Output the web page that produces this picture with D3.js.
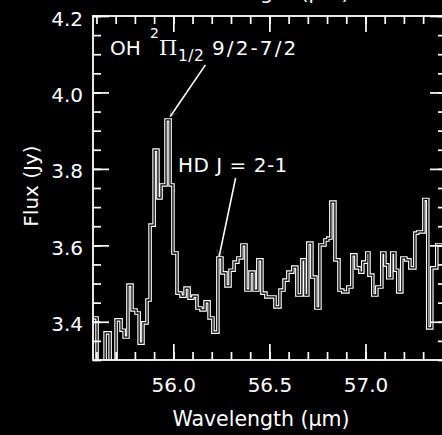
<!DOCTYPE html>
<html><head><meta charset="utf-8">
<script src="https://cdn.jsdelivr.net/npm/d3@7/dist/d3.min.js"></script>
<style>
html,body{margin:0;padding:0;background:#000;}
svg{display:block;}
text{font-family:"DejaVu Sans",sans-serif;fill:#fff;}
</style></head>
<body>
<svg id="c" width="442" height="435"></svg>
<script>
// Left edge wavelength of each spectral bin (μm) and its flux (Jy)
const wavelength = [55.582,55.603,55.624,55.645,55.671,55.686,55.702,55.728,55.744,55.764,
 55.785,55.806,55.822,55.842,55.863,55.879,55.900,55.920,55.936,55.962,
 55.983,55.998,56.019,56.040,56.061,56.082,56.102,56.123,56.144,56.165,
 56.186,56.206,56.232,56.253,56.274,56.295,56.316,56.336,56.357,56.378,
 56.399,56.420,56.440,56.461,56.482,56.503,56.529,56.555,56.576,56.596,
 56.622,56.643,56.669,56.685,56.700,56.721,56.742,56.763,56.789,56.804,
 56.820,56.841,56.862,56.882,56.908,56.929,56.950,56.971,56.986,57.007,
 57.018,57.038,57.059,57.085,57.101,57.116,57.137,57.153,57.168,57.189,
 57.210,57.231,57.257,57.272,57.304,57.324,57.345,57.371,57.419];
const flux = [3.410,3.274,3.261,3.371,3.261,3.248,3.405,3.378,3.360,3.496,
 3.431,3.423,3.344,3.397,3.457,3.653,3.849,3.724,3.758,3.928,
 3.758,3.580,3.475,3.467,3.488,3.462,3.467,3.436,3.431,3.452,
 3.410,3.373,3.567,3.528,3.494,3.535,3.556,3.567,3.601,3.483,
 3.530,3.483,3.562,3.475,3.465,3.465,3.439,3.483,3.509,3.530,
 3.543,3.470,3.562,3.470,3.606,3.517,3.436,3.601,3.614,3.619,
 3.713,3.562,3.483,3.478,3.491,3.575,3.541,3.530,3.556,3.580,
 3.522,3.470,3.491,3.580,3.549,3.515,3.580,3.535,3.478,3.567,
 3.562,3.541,3.632,3.635,3.720,3.384,3.541,3.601,3.601];

const xDomain = [55.582, 57.419];
const yDomain = [3.3, 4.2];
const xMajor = [56.0, 56.5, 57.0];
const xMinor = d3.range(55.6, 57.41, 0.1);
const yMajor = [3.4, 3.6, 3.8, 4.0, 4.2];
const yMinor = d3.range(3.3, 4.201, 0.05);
const xTitle = "Wavelength (\u03bcm)";
const yTitle = "Flux (Jy)";
// annotation pointers: [from λ, from flux, to λ, to flux]
const pointers = [[56.167, 4.072, 55.984, 3.937],[56.324, 3.776, 56.238, 3.570]];

const L = 93, T = 16, R = 446, B = 360;
const svg = d3.select("#c");
svg.append("rect").attr("width",442).attr("height",435).attr("fill","#000");
const x = d3.scaleLinear().domain(xDomain).range([L, R]);
const y = d3.scaleLinear().domain(yDomain).range([B, T]);

svg.append("defs").append("clipPath").attr("id","clip")
  .append("rect").attr("x",L).attr("y",T).attr("width",R-L).attr("height",B-T);

const pts = wavelength.map((w,i)=>[w, flux[i]]);
const line = d3.line().x(d=>x(d[0])).y(d=>y(d[1])).curve(d3.curveStepAfter);
const g = svg.append("g").attr("clip-path","url(#clip)");
g.append("path").attr("d", line(pts)).attr("fill","none").attr("stroke","#fff").attr("stroke-width",3.6);
g.append("path").attr("d", line(pts)).attr("fill","none").attr("stroke","#000").attr("stroke-width",1.3);

function style(sel){
  sel.selectAll("path.domain").remove();
  sel.selectAll("line").attr("stroke","#fff").attr("stroke-width",1.7);
  sel.selectAll("text").attr("fill","#fff").style("font-size","20px").style("font-family","DejaVu Sans");
}
// bottom
svg.append("g").attr("transform",`translate(0,${B})`)
  .call(d3.axisBottom(x).tickValues(xMinor).tickSizeInner(-8).tickSizeOuter(0).tickFormat(""))
  .call(style);
svg.append("g").attr("transform",`translate(0,${B})`)
  .call(d3.axisBottom(x).tickValues(xMajor).tickSizeInner(-16).tickSizeOuter(0).tickPadding(18).tickFormat(d3.format(".1f")))
  .call(style);
// top
svg.append("g").attr("transform",`translate(0,${T})`)
  .call(d3.axisTop(x).tickValues(xMinor).tickSizeInner(-8).tickSizeOuter(0).tickFormat(""))
  .call(style);
svg.append("g").attr("transform",`translate(0,${T})`)
  .call(d3.axisTop(x).tickValues(xMajor).tickSizeInner(-16).tickSizeOuter(0).tickFormat(""))
  .call(style);
// left
svg.append("g").attr("transform",`translate(${L},0)`)
  .call(d3.axisLeft(y).tickValues(yMinor).tickSizeInner(-8).tickSizeOuter(0).tickFormat(""))
  .call(style);
const ya = svg.append("g").attr("transform",`translate(${L},0)`)
  .call(d3.axisLeft(y).tickValues(yMajor).tickSizeInner(-16).tickSizeOuter(0).tickPadding(10).tickFormat(d3.format(".1f")))
  .call(style);
ya.selectAll("text").attr("dy","0.45em");
// right
svg.append("g").attr("transform",`translate(${R},0)`)
  .call(d3.axisRight(y).tickValues(yMinor).tickSizeInner(-8).tickSizeOuter(0).tickFormat(""))
  .call(style);
svg.append("g").attr("transform",`translate(${R},0)`)
  .call(d3.axisRight(y).tickValues(yMajor).tickSizeInner(-16).tickSizeOuter(0).tickFormat(""))
  .call(style);
// frame
svg.append("rect").attr("x",L).attr("y",T).attr("width",R-L).attr("height",B-T)
  .attr("fill","none").attr("stroke","#fff").attr("stroke-width",1.8);

// titles
svg.append("text").attr("x",261).attr("y",426).attr("text-anchor","middle").style("font-size","20.5px").text(xTitle);
svg.append("text").attr("x",261).attr("y",-1).attr("text-anchor","middle").style("font-size","20.5px").text(xTitle);
svg.append("text").attr("transform","translate(38,186) rotate(-90)").attr("text-anchor","middle").style("font-size","20px").text(yTitle);

// annotations
const oh = svg.append("text").attr("y",55).style("font-size","20px");
oh.append("tspan").attr("x",110).text("OH");
oh.append("tspan").attr("x",150).attr("y",38).style("font-size","14px").text("2");
oh.append("tspan").attr("x",159).attr("y",55).style("font-family","DejaVu Serif").style("font-size","21px").text("\u03a0");
oh.append("tspan").attr("x",178).attr("y",61).style("font-size","15.5px").style("letter-spacing","0.5px").text("1/2");
oh.append("tspan").attr("x",212).attr("y",55).style("letter-spacing","2.1px").text("9/2-7/2");

svg.append("text").attr("x",178).attr("y",172).style("font-size","20px").style("letter-spacing","0.5px").text("HD J = 2-1");

pointers.forEach(a=>{
  const x1=x(a[0]), y1=y(a[1]), x2=x(a[2]), y2=y(a[3]);
  const ang = Math.atan2(y2-y1, x2-x1), h = 8, s = 0.5;
  svg.append("path")
    .attr("d",`M${x2-h*Math.cos(ang-s)},${y2-h*Math.sin(ang-s)}L${x2},${y2}L${x2-h*Math.cos(ang+s)},${y2-h*Math.sin(ang+s)}`)
    .attr("fill","none").attr("stroke","#444").attr("stroke-width",1);
  svg.append("line").attr("x1",x1).attr("y1",y1).attr("x2",x2).attr("y2",y2)
    .attr("stroke","#fff").attr("stroke-width",1.6);
});
</script>
</body></html>
